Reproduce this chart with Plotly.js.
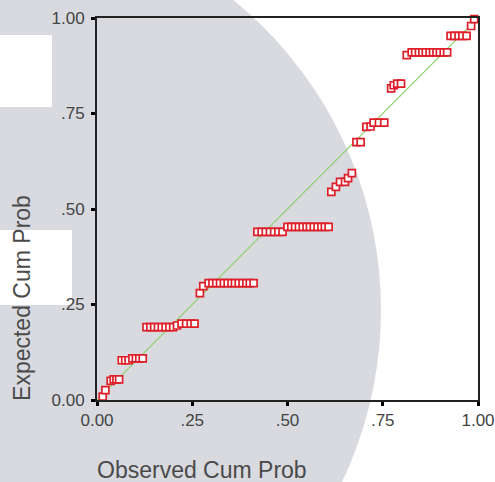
<!DOCTYPE html>
<html>
<head>
<meta charset="utf-8">
<script src="https://cdn.plot.ly/plotly-3.0.1.min.js"></script>
<style>
  html, body { margin: 0; padding: 0; width: 495px; height: 482px; overflow: hidden; background: #ffffff; position: relative; }
  .bgc { position: absolute; left: -417px; top: -89px; width: 798px; height: 798px; border-radius: 50%; background: #d8dadf; }
  .wr1 { position: absolute; left: 0; top: 35px; width: 52px; height: 72px; background: #ffffff; }
  .wr2 { position: absolute; left: 0; top: 230px; width: 72px; height: 75px; background: #ffffff; }
  #chart { position: absolute; left: 0; top: 0; width: 495px; height: 482px; }
</style>
</head>
<body>
<div class="bgc"></div>
<div class="wr1"></div>
<div class="wr2"></div>
<div id="chart"></div>
<script>
// Observed cumulative probability (x) and expected cumulative probability (y)
const observedCumProb = [
  0.015, 0.022,
  0.036, 0.044, 0.051, 0.058,
  0.065, 0.074, 0.083, 0.093, 0.102, 0.111, 0.120,
  0.130, 0.140, 0.150, 0.160, 0.170, 0.180, 0.190, 0.200,
  0.210, 0.222, 0.234, 0.246, 0.256,
  0.270, 0.279,
  0.293, 0.303, 0.313, 0.323, 0.333, 0.343, 0.353, 0.362, 0.372, 0.382, 0.392, 0.401, 0.411,
  0.421, 0.432, 0.443, 0.454, 0.465, 0.476, 0.487,
  0.500, 0.510, 0.520, 0.530, 0.540, 0.550, 0.559, 0.569, 0.579, 0.589, 0.598, 0.608,
  0.615, 0.627, 0.638, 0.651, 0.659, 0.669,
  0.681, 0.692,
  0.707, 0.718, 0.726, 0.740, 0.754,
  0.772, 0.779, 0.788, 0.798,
  0.813, 0.826, 0.835, 0.845, 0.854, 0.863, 0.873, 0.882, 0.891, 0.900, 0.910, 0.919,
  0.928, 0.938, 0.949, 0.959, 0.970,
  0.982, 0.990
];
const expectedCumProb = [
  0.009, 0.026,
  0.050, 0.054, 0.054, 0.054,
  0.104, 0.104, 0.104, 0.109, 0.109, 0.109, 0.109,
  0.191, 0.191, 0.191, 0.191, 0.191, 0.191, 0.191, 0.191,
  0.195, 0.200, 0.200, 0.200, 0.200,
  0.280, 0.298,
  0.306, 0.306, 0.306, 0.306, 0.306, 0.306, 0.306, 0.306, 0.306, 0.306, 0.306, 0.306, 0.306,
  0.440, 0.440, 0.440, 0.440, 0.440, 0.440, 0.440,
  0.453, 0.453, 0.453, 0.453, 0.453, 0.453, 0.453, 0.453, 0.453, 0.453, 0.453, 0.453,
  0.545, 0.558, 0.571, 0.571, 0.581, 0.594,
  0.675, 0.675,
  0.715, 0.716, 0.726, 0.726, 0.726,
  0.816, 0.824, 0.828, 0.828,
  0.903, 0.910, 0.910, 0.910, 0.910, 0.910, 0.910, 0.910, 0.910, 0.910, 0.910, 0.910,
  0.953, 0.953, 0.953, 0.953, 0.953,
  0.979, 0.997
];
// Reference (diagonal) line
const refLineX = [0, 1];
const refLineY = [0, 1];
// Tick values / labels
const tickVals = [0, 0.25, 0.5, 0.75, 1];
const tickLabels = ['0.00', '.25', '.50', '.75', '1.00'];
const xTitle = 'Observed Cum Prob';
const yTitle = 'Expected Cum Prob';

const traces = [
  {
    x: refLineX, y: refLineY, type: 'scatter', mode: 'lines',
    line: { color: '#8ccf6a', width: 1.2 }, hoverinfo: 'skip', cliponaxis: false
  },
  {
    x: observedCumProb, y: expectedCumProb, type: 'scatter', mode: 'markers',
    marker: { symbol: 'square', size: 7, color: '#ffffff', line: { color: '#dd1f29', width: 1.7 } },
    cliponaxis: false
  }
];

const axisCommon = {
  range: [0, 1], tickmode: 'array', tickvals: tickVals, ticktext: tickLabels,
  showgrid: false, zeroline: false, showline: true, mirror: true,
  linecolor: '#222222', linewidth: 2,
  ticks: 'outside', ticklen: 4, tickwidth: 3, tickcolor: '#000000',
  tickfont: { family: 'Liberation Sans, Arial, sans-serif', size: 17, color: '#444444' },
  fixedrange: true
};

const layout = {
  width: 495, height: 482,
  margin: { l: 97, r: 17, t: 18, b: 82, pad: 0 },
  paper_bgcolor: 'rgba(0,0,0,0)', plot_bgcolor: 'rgba(0,0,0,0)',
  showlegend: false,
  xaxis: Object.assign({}, axisCommon),
  yaxis: Object.assign({}, axisCommon, { ticklabelstandoff: 3 }),
  annotations: [
    { text: xTitle, xref: 'paper', yref: 'paper', x: 0.276, y: -0.183, xanchor: 'center', yanchor: 'middle',
      showarrow: false, font: { family: 'Liberation Sans, Arial, sans-serif', size: 23, color: '#4a4a4a' } },
    { text: yTitle, xref: 'paper', yref: 'paper', x: -0.197, y: 0.267, xanchor: 'center', yanchor: 'middle',
      textangle: -90, showarrow: false, font: { family: 'Liberation Sans, Arial, sans-serif', size: 23, color: '#4a4a4a' } }
  ]
};

Plotly.newPlot('chart', traces, layout, { displayModeBar: false, staticPlot: true });
</script>
</body>
</html>
